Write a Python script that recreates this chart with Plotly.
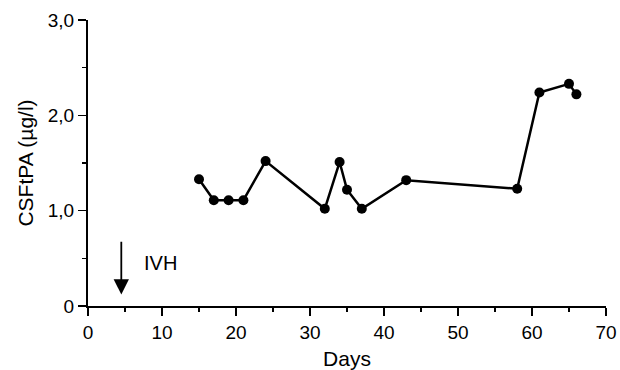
import plotly.graph_objects as go

days = [15, 17, 19, 21, 24, 32, 34, 35, 37, 43, 58, 61, 65, 66]
csftpa = [1.33, 1.11, 1.11, 1.11, 1.52, 1.02, 1.51, 1.22, 1.02, 1.32, 1.23, 2.24, 2.33, 2.22]

x_ticks = [0, 10, 20, 30, 40, 50, 60, 70]
x_labels = ["0", "10", "20", "30", "40", "50", "60", "70"]
y_ticks = [0, 1, 2, 3]
y_labels = ["0", "1,0", "2,0", "3,0"]

FONT = "Liberation Sans, Arial, sans-serif"

fig = go.Figure()
fig.add_trace(go.Scatter(
    x=days, y=csftpa, mode="lines+markers",
    line=dict(color="black", width=2.5),
    marker=dict(color="black", size=10),
    showlegend=False, cliponaxis=False,
))

# IVH arrow
fig.add_annotation(
    x=4.5, y=0.12, ax=4.5, ay=0.69, xref="x", yref="y", axref="x", ayref="y",
    showarrow=True, arrowhead=2, arrowsize=1.7, arrowwidth=1.8, arrowcolor="black",
    text="",
)
fig.add_annotation(
    x=7.3, y=0.45, xref="x", yref="y", text="IVH", showarrow=False,
    xanchor="left", yanchor="middle", font=dict(family=FONT, size=20, color="black"),
)

fig.update_layout(
    width=620, height=370,
    margin=dict(l=88, r=14, t=20, b=64),
    paper_bgcolor="white", plot_bgcolor="white",
    font=dict(family=FONT, size=19, color="black"),
)
fig.update_xaxes(
    range=[0, 70], tickvals=x_ticks, ticktext=x_labels, automargin=False,
    showline=True, linecolor="black", linewidth=2, mirror=False,
    ticks="outside", ticklen=8, tickwidth=1.5, tickcolor="black",
    minor=dict(dtick=5, tick0=0, ticks="outside", ticklen=4, tickwidth=1.2, tickcolor="black"),
    showgrid=False, zeroline=False,
    title=dict(text="Days", font=dict(size=21), standoff=18),
    tickfont=dict(size=19),
)
fig.update_yaxes(
    range=[0, 3], tickvals=y_ticks, ticktext=y_labels, automargin=False,
    showline=True, linecolor="black", linewidth=2, mirror=False,
    ticks="outside", ticklen=8, tickwidth=1.5, tickcolor="black",
    minor=dict(dtick=0.5, tick0=0, ticks="outside", ticklen=4, tickwidth=1.2, tickcolor="black"),
    showgrid=False, zeroline=False,
    title=dict(text="CSFtPA (µg/l)", font=dict(size=21), standoff=8),
    tickfont=dict(size=19),
)

fig.write_html(
    "out.html",
    config={"displayModeBar": False, "staticPlot": True},
    post_script="document.body.style.margin='0';document.body.style.overflow='hidden';",
)
